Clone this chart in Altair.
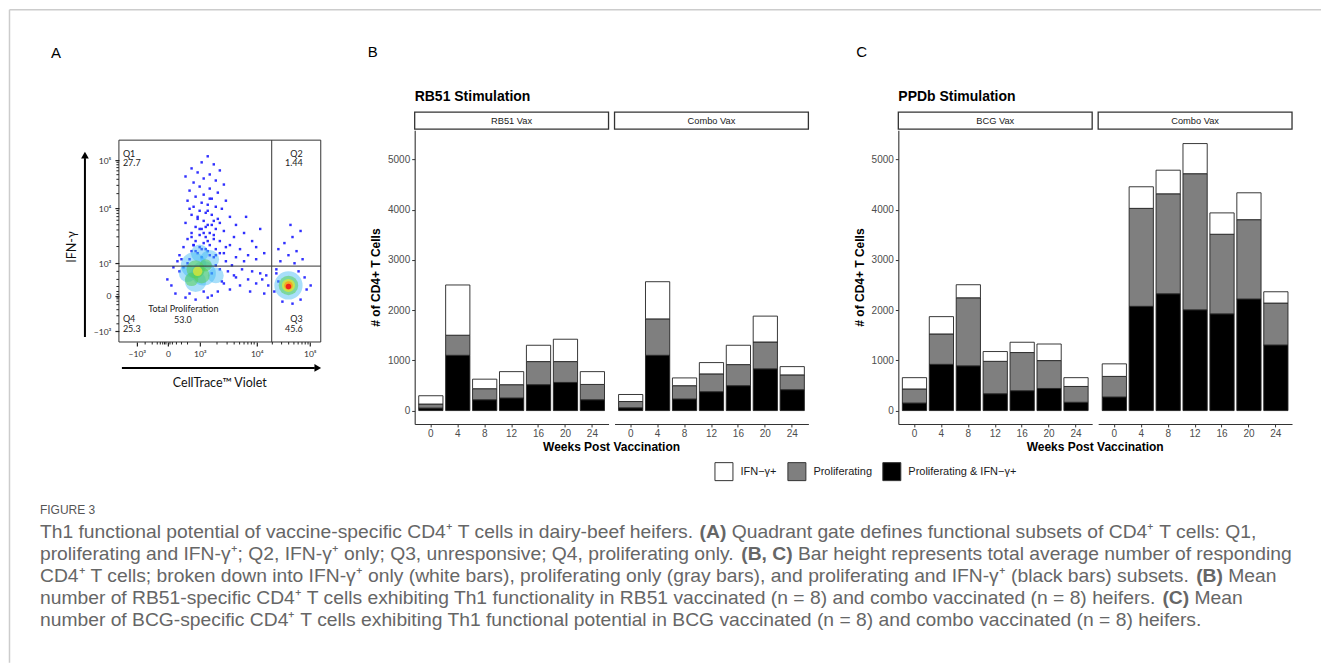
import altair as alt
import pandas as pd

# ---------------------------------------------------------------- data
weeks = [0, 4, 8, 12, 16, 20, 24]
subsets = ["IFN\u2212\u03b3+", "Proliferating", "Proliferating & IFN\u2212\u03b3+"]
subset_colors = ["#ffffff", "#7f7f7f", "#000000"]
y_ticks = [0, 1000, 2000, 3000, 4000, 5000]

# Panel B - RB51 stimulation
b_rb51_both = [50, 1100, 215, 250, 515, 560, 215]
b_rb51_prolif = [80, 400, 220, 265, 460, 415, 305]
b_rb51_ifn = [165, 1000, 190, 260, 325, 445, 255]
b_combo_both = [55, 1100, 230, 375, 495, 830, 415]
b_combo_prolif = [125, 725, 265, 355, 420, 535, 295]
b_combo_ifn = [140, 740, 155, 225, 385, 515, 165]
# Panel C - PPDb stimulation
c_bcg_both = [150, 920, 890, 335, 395, 440, 165]
c_bcg_prolif = [280, 605, 1355, 645, 760, 555, 315]
c_bcg_ifn = [225, 345, 260, 195, 205, 330, 175]
c_combo_both = [270, 2075, 2325, 2005, 1925, 2220, 1305]
c_combo_prolif = [410, 1950, 1990, 2710, 1585, 1580, 835]
c_combo_ifn = [250, 430, 470, 600, 425, 535, 225]

# Panel A - flow plot (display units 0-100 on both axes)
a_xtick_vals = [8.9, 24.3, 40.1, 68.3, 94.6]
a_ytick_vals = [5.4, 22.8, 39.1, 66.3, 90.1]
a_tick_labels = ["\u221210\u00b3", "0", "10\u00b3", "10\u2074", "10\u2075"]
a_xminor = [13, 16.5, 19, 20.5, 21.7, 22.6, 23.3, 25.3, 26.5, 28.5, 31, 34, 48.6, 53.6, 57.1, 59.8,
            62.0, 63.9, 65.6, 67.0, 76.0, 80.6, 84.1, 86.7, 88.8, 90.7, 92.3, 93.7]
a_yminor = [9, 13, 16, 18.5, 20.2, 21.4, 22.2, 23.6, 25, 27.5, 31, 35, 47.3, 52.1, 55.5, 58.1,
            60.3, 62.1, 63.7, 65.1, 73.5, 77.6, 80.6, 82.9, 84.8, 86.4, 87.8, 89.0]
gate_x = [75.7]
gate_y = [37.6]
dots_x = [44, 41, 47, 36, 50, 39, 45, 33, 42, 48, 37, 52, 40, 45, 35, 49, 42, 38, 46, 53,
          34, 41, 44, 48, 37, 51, 40, 43, 46, 36, 55, 39, 42, 47, 50, 33, 44, 38, 41, 48,
          52, 36, 45, 40, 43, 57, 34, 47, 50, 38, 42, 45, 55, 32, 40, 48, 60, 36, 44, 52,
          30, 64, 58, 47, 35, 68, 62, 53, 29, 56, 61, 66, 70, 73, 64, 58, 68, 74, 71, 60,
          52, 55, 49, 65, 72, 78, 58, 62, 66, 70, 63, 68, 72, 80, 84, 88, 82, 86, 90, 85,
          79, 91, 87, 77, 79, 92, 93, 90, 81, 86, 95, 78, 89, 26, 24, 28, 33, 38, 44, 30,
          27, 46, 42, 35, 39, 43, 37, 41, 45, 34, 31, 48, 50, 46, 54, 57, 51, 43, 39, 47,
          35, 50, 44, 41, 37, 49, 53, 45, 32, 40, 46, 36, 42, 48, 38, 44]
dots_y = [92, 89, 88, 86, 85, 84, 83, 82, 81, 80, 79, 78, 77, 76, 75, 74, 73, 72, 71, 70,
          70, 69, 68, 67, 67, 66, 65, 64, 63, 63, 62, 61, 60, 60, 59, 59, 58, 57, 56, 56,
          55, 54, 54, 53, 52, 52, 51, 51, 50, 50, 49, 48, 48, 47, 47, 46, 46, 45, 45, 44,
          43, 43, 42, 42, 41, 41, 40, 40, 40, 38, 36, 35, 34, 33, 31, 32, 29, 28, 31, 28,
          29, 26, 25, 25, 24, 36, 58, 54, 50, 56, 62, 47, 44, 40, 43, 45, 49, 52, 55, 58,
          46, 41, 39, 25, 30, 32, 26, 21, 20, 19, 28, 34, 35, 28, 31, 24, 22, 21, 22, 35,
          37, 23, 25, 24, 44, 46, 48, 42, 43, 39, 41, 38, 36, 34, 35, 33, 30, 57, 62, 53,
          66, 44, 50, 46, 48, 61, 47, 71, 37, 56, 58, 52, 54, 43, 45, 65]
blob_cyan_x = [37, 42, 38, 45, 34, 84, 48, 40]
blob_cyan_y = [38, 34, 30, 41, 34, 28, 33, 44]
blob_cyan_s = [650, 600, 450, 350, 300, 800, 250, 300]
blob_green_x = [38, 41, 36, 43, 84]
blob_green_y = [36, 33, 31, 38, 28]
blob_green_s = [330, 260, 180, 150, 380]
blob_yellow_x = [39, 84]
blob_yellow_y = [35, 28]
blob_yellow_s = [90, 170]
blob_orange_x = [84]
blob_orange_y = [28]
blob_orange_s = [75]
blob_red_x = [84]
blob_red_y = [27.5]
blob_red_s = [30]

caption_lines = [
    [("Th1 functional potential of vaccine-specific CD4\u207a T cells in dairy-beef heifers. ", False),
     ("(A)", True), (" Quadrant gate defines functional subsets of CD4\u207a T cells: Q1,", False)],
    [("proliferating and IFN-\u03b3\u207a; Q2, IFN-\u03b3\u207a only; Q3, unresponsive; Q4, proliferating only. ", False),
     ("(B, C)", True), (" Bar height represents total average number of responding", False)],
    [("CD4\u207a T cells; broken down into IFN-\u03b3\u207a only (white bars), proliferating only (gray bars), "
      "and proliferating and IFN-\u03b3\u207a (black bars) subsets. ", False), ("(B)", True), (" Mean", False)],
    [("number of RB51-specific CD4\u207a T cells exhibiting Th1 functionality in RB51 vaccinated (n = 8) "
      "and combo vaccinated (n = 8) heifers. ", False), ("(C)", True), (" Mean", False)],
    [("number of BCG-specific CD4\u207a T cells exhibiting Th1 functional potential in BCG vaccinated (n = 8) "
      "and combo vaccinated (n = 8) heifers.", False)],
]

# ---------------------------------------------------------------- helpers
FONT = "Liberation Sans"
ONE = pd.DataFrame({"k": [0]})

AW = {' ': 278, '(': 333, ')': 333, '+': 584, ',': 278, '-': 333, '.': 278, ':': 278, ';': 278, '=': 584,
      'A': 667, 'B': 667, 'C': 722, 'D': 722, 'E': 667, 'F': 611, 'G': 778, 'H': 722, 'I': 278, 'J': 500,
      'K': 667, 'L': 556, 'M': 833, 'N': 722, 'O': 778, 'P': 667, 'Q': 778, 'R': 722, 'S': 667, 'T': 611,
      'U': 722, 'V': 667, 'W': 944, 'X': 667, 'Y': 667, 'Z': 611,
      'a': 556, 'b': 556, 'c': 500, 'd': 556, 'e': 556, 'f': 278, 'g': 556, 'h': 556, 'i': 222, 'j': 222,
      'k': 500, 'l': 222, 'm': 833, 'n': 556, 'o': 556, 'p': 556, 'q': 556, 'r': 333, 's': 500, 't': 278,
      'u': 556, 'v': 500, 'w': 722, 'x': 500, 'y': 500, 'z': 500, '\u03b3': 500, '\u207a': 380}
AWB = {' ': 278, '(': 333, ')': 333, ',': 278, 'A': 722, 'B': 722, 'C': 722}


def tw(s, bold=False):
    tbl = AWB if bold else AW
    return sum(tbl.get(ch, 556) for ch in s) / 1000.0


def vtext(txt, x, y, size, color="#000000", weight="normal", align="left", font=FONT, angle=0,
          baseline="middle"):
    kw = dict(text=txt, fontSize=size, color=color, fontWeight=weight, align=align, font=font,
              baseline=baseline)
    if angle:
        kw["angle"] = angle
    return alt.Chart(ONE).mark_text(**kw).encode(x=alt.value(x), y=alt.value(y))


def vrule(x, y, x2=None, y2=None, color="#000000", width=1.0):
    enc = {"x": alt.value(x), "y": alt.value(y)}
    if x2 is not None:
        enc["x2"] = alt.value(x2)
    if y2 is not None:
        enc["y2"] = alt.value(y2)
    return alt.Chart(ONE).mark_rule(color=color, strokeWidth=width).encode(**enc)


def spacer(w):
    return alt.Chart(ONE).mark_point(opacity=0).encode(x=alt.value(0), y=alt.value(0)).properties(
        width=w, height=10)


# ---------------------------------------------------------------- bar panels
W, H = 194, 294
YDOM = [-266, 5582]

legend = alt.Legend(title=None, orient="none", legendX=596, legendY=332, direction="horizontal",
                    columns=3, symbolType="square", symbolSize=324, symbolStrokeColor="#333333",
                    symbolStrokeWidth=1, labelFont=FONT, labelFontSize=11, labelColor="#1a1a1a",
                    labelOffset=7, columnPadding=8, padding=0)


def bars_df(both, prolif, ifn):
    rows = []
    for i, wk in enumerate(weeks):
        rows.append({"week": wk, "subset": subsets[2], "value": both[i], "ord": 0})
        rows.append({"week": wk, "subset": subsets[1], "value": prolif[i], "ord": 1})
        rows.append({"week": wk, "subset": subsets[0], "value": ifn[i], "ord": 2})
    return pd.DataFrame(rows)


def panel(df, strip, first, title=None, letter=None, letter_pos=None):
    xaxis = alt.Axis(title=None, labelAngle=0, labelFont=FONT, labelFontSize=10, labelColor="#4d4d4d",
                     tickColor="#333333", tickSize=3, domainColor="#333333", domainWidth=1.1,
                     labelPadding=1.5, grid=False)
    if first:
        y = alt.Y("value:Q", stack="zero", scale=alt.Scale(domain=YDOM, nice=False, zero=False),
                  axis=alt.Axis(values=y_ticks, format="d", grid=False, title="# of CD4+ T Cells",
                                titleFont=FONT, titleFontSize=12, titleFontWeight="bold",
                                titleColor="#000000", titlePadding=5, labelFont=FONT, labelFontSize=10,
                                labelColor="#4d4d4d", tickColor="#333333", tickSize=3,
                                domainColor="#333333", domainWidth=1.1, labelPadding=2))
    else:
        y = alt.Y("value:Q", stack="zero", scale=alt.Scale(domain=YDOM, nice=False, zero=False),
                  axis=None)
    bars = alt.Chart(df).mark_bar(stroke="#222222", strokeWidth=0.9).encode(
        x=alt.X("week:O", sort=weeks, scale=alt.Scale(paddingInner=0.1, paddingOuter=0.15), axis=xaxis),
        y=y,
        color=alt.Color("subset:N", scale=alt.Scale(domain=subsets, range=subset_colors), legend=legend),
        order=alt.Order("ord:Q", sort="ascending"),
    )
    layers = [bars]
    layers.append(alt.Chart(ONE).mark_rect(fill="#ffffff", stroke="#333333", strokeWidth=1.3).encode(
        x=alt.value(0), x2=alt.value(W), y=alt.value(-18), y2=alt.value(-1)))
    layers.append(vtext(strip, W / 2, -9.5, 9.3, color="#1a1a1a", align="center"))
    if first:
        layers.append(vtext(title, 0, -33, 14, weight="bold"))
        layers.append(vtext("Weeks Post Vaccination", W + 3, H + 23, 12, weight="bold", align="center"))
        layers.append(vtext(letter, letter_pos[0], letter_pos[1], 15))
    return alt.layer(*layers).properties(width=W, height=H)


b1 = panel(bars_df(b_rb51_both, b_rb51_prolif, b_rb51_ifn), "RB51 Vax", True,
           title="RB51 Stimulation", letter="B", letter_pos=(-47, -78))
b2 = panel(bars_df(b_combo_both, b_combo_prolif, b_combo_ifn), "Combo Vax", False)
c1 = panel(bars_df(c_bcg_both, c_bcg_prolif, c_bcg_ifn), "BCG Vax", True,
           title="PPDb Stimulation", letter="C", letter_pos=(-42, -78))
c2 = panel(bars_df(c_combo_both, c_combo_prolif, c_combo_ifn), "Combo Vax", False)

# ---------------------------------------------------------------- panel A
AS = 202  # frame size in px
FY = 10  # frame offset from the top of panel A's view
A_OX, A_OY = 119, 130  # page origin of panel A view


def label_expr(vals, labels):
    e = "''"
    for v, l in zip(vals, labels):
        e = "datum.value == %s ? '%s' : (%s)" % (v, l, e)
    return e


ax_x = alt.X("x:Q", scale=alt.Scale(domain=[0, 100], range=[0, AS], nice=False, zero=False),
             axis=alt.Axis(values=a_xtick_vals, labelExpr=label_expr(a_xtick_vals, a_tick_labels),
                           title=None, grid=False, domain=False, tickSize=4, tickColor="#222222",
                           tickWidth=1.2, labelFont="Lato", labelFontSize=8.5, labelColor="#333333",
                           labelPadding=4, zindex=2))
ax_y = alt.Y("y:Q", scale=alt.Scale(domain=[0, 100], range=[AS + FY, FY], nice=False, zero=False),
             axis=alt.Axis(values=a_ytick_vals, labelExpr=label_expr(a_ytick_vals, a_tick_labels),
                           title=None, grid=False, domain=False, tickSize=4, tickColor="#222222",
                           tickWidth=1.2, labelFont="Lato", labelFontSize=8.5, labelColor="#333333",
                           labelPadding=4, zindex=2))


def rel(px, py):
    return px - A_OX, py - A_OY


a_layers = []
# page background anchor + figure frame lines
a_layers.append(alt.Chart(ONE).mark_rect(fill="#ffffff").encode(
    x=alt.value(-A_OX), x2=alt.value(1322 - A_OX), y=alt.value(-A_OY), y2=alt.value(663 - A_OY)))
a_layers.append(vrule(9.5 - A_OX, 9.5 - A_OY, x2=1322 - A_OX, color="#cccccc", width=1.5))
a_layers.append(vrule(9.5 - A_OX, 9.5 - A_OY, y2=663 - A_OY, color="#cccccc", width=1.5))

# dots
a_layers.append(alt.Chart(pd.DataFrame({"x": dots_x, "y": dots_y})).mark_square(
    size=6, color="#1a1aff", opacity=0.9).encode(x=ax_x, y=ax_y))
for bx, by, bs, col, op in [
    (blob_cyan_x, blob_cyan_y, blob_cyan_s, "#3fb8f5", 0.45),
    (blob_green_x, blob_green_y, blob_green_s, "#55cf55", 0.55),
    (blob_yellow_x, blob_yellow_y, blob_yellow_s, "#d9e63a", 0.8),
    (blob_orange_x, blob_orange_y, blob_orange_s, "#ff9a1a", 0.85),
    (blob_red_x, blob_red_y, blob_red_s, "#ee1c1c", 0.95),
]:
    a_layers.append(alt.Chart(pd.DataFrame({"x": bx, "y": by, "s": bs})).mark_circle(
        color=col, opacity=op).encode(x=ax_x, y=ax_y, size=alt.Size("s:Q", scale=None, legend=None)))

# gates
a_layers.append(alt.Chart(pd.DataFrame({"x": gate_x})).mark_rule(color="#333333", strokeWidth=1).encode(
    x=ax_x, y=alt.value(FY), y2=alt.value(AS + FY)))
a_layers.append(alt.Chart(pd.DataFrame({"y": gate_y})).mark_rule(color="#333333", strokeWidth=1).encode(
    y=ax_y, x=alt.value(0), x2=alt.value(AS)))
# frame
a_layers.append(alt.Chart(ONE).mark_rect(fillOpacity=0, stroke="#333333", strokeWidth=1).encode(
    x=alt.value(0), x2=alt.value(AS), y=alt.value(FY), y2=alt.value(AS + FY)))
# minor ticks
a_layers.append(alt.Chart(pd.DataFrame({"x": a_xminor})).mark_rule(color="#222222", strokeWidth=1).encode(
    x=ax_x, y=alt.value(AS + FY), y2=alt.value(AS + FY + 2.5)))
a_layers.append(alt.Chart(pd.DataFrame({"y": a_yminor})).mark_rule(color="#222222", strokeWidth=1).encode(
    y=ax_y, x=alt.value(-2.5), x2=alt.value(0)))

# quadrant annotations
QF = "Lato"
for txt, px, py, al in [("Q1", 123, 154, "left"), ("27.7", 123, 163, "left"),
                        ("Q2", 303, 154, "right"), ("1.44", 303, 163, "right"),
                        ("Q4", 123, 319, "left"), ("25.3", 123, 329, "left"),
                        ("Q3", 303, 319, "right"), ("45.6", 303, 329, "right"),
                        ("Total Proliferation", 183.5, 309, "center"), ("53.0", 183, 320, "center")]:
    rx, ry = rel(px, py)
    a_layers.append(vtext(txt, rx, ry, 9, color="#222222", align=al, font=QF))

# axis titles and arrows
rx, ry = rel(72, 247)
a_layers.append(vtext("IFN-\u03b3", rx, ry, 12.5, color="#111111", align="center", font=QF, angle=270))
rx, ry = rel(220, 383)
a_layers.append(vtext("CellTrace\u2122 Violet", rx, ry, 12.5, color="#111111", align="center", font=QF))
a_layers.append(vrule(85 - A_OX, 337 - A_OY, y2=158 - A_OY, width=2))
a_layers.append(alt.Chart(ONE).mark_point(shape="triangle-up", filled=True, size=60, color="#000000",
                                          opacity=1).encode(x=alt.value(85 - A_OX), y=alt.value(155 - A_OY)))
a_layers.append(vrule(122 - A_OX, 368 - A_OY, x2=315 - A_OX, width=2))
a_layers.append(alt.Chart(ONE).mark_point(shape="triangle-right", filled=True, size=60, color="#000000",
                                          opacity=1).encode(x=alt.value(318 - A_OX), y=alt.value(368 - A_OY)))

# panel letter A
rx, ry = rel(56, 53)
a_layers.append(vtext("A", rx, ry, 15, align="center"))

# caption (last line ends near x = 1204 in the reference)
CAP_X = 40
CAP_FS = (1204 - CAP_X) / tw(caption_lines[4][0][0])
CAP_COL = "#666666"
rx, ry = rel(CAP_X, 510)
a_layers.append(vtext("FIGURE 3", rx, ry, 12, color="#555555", font="Liberation Sans Narrow, " + FONT))
cap_y = [532, 554, 576, 598, 620]
for line, py in zip(caption_lines, cap_y):
    cursor = CAP_X
    for seg, bold in line:
        lead = len(seg) - len(seg.lstrip(" "))
        xs = cursor + tw(" " * lead, bold) * CAP_FS
        rx, ry = rel(xs, py)
        a_layers.append(vtext(seg.strip(), rx, ry, CAP_FS, color=CAP_COL,
                              weight="bold" if bold else "normal"))
        cursor += tw(seg, bold) * CAP_FS

panel_a = alt.layer(*a_layers).properties(width=AS, height=AS + FY)

# gaps: A ends at 321, B1 starts at 415; B2 ends at 809, C1 starts at 899 (spacing 6 on both sides)
chart = alt.hconcat(panel_a, spacer(82), b1, b2, spacer(78), c1, c2, spacing=6, bounds="flush").properties(
    padding=0, background="#ffffff").configure_view(stroke="transparent", strokeWidth=0)

chart.save("out.html", embed_options={"renderer": "svg", "actions": False})
